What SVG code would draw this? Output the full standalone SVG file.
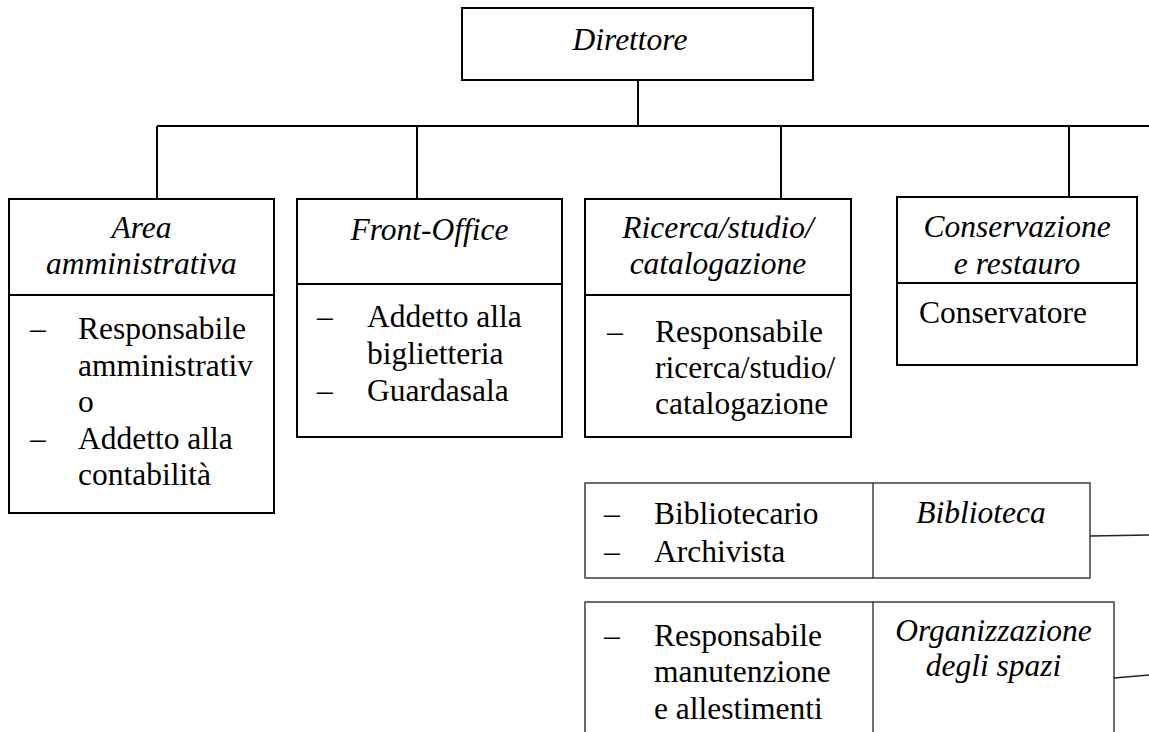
<svg xmlns="http://www.w3.org/2000/svg" width="1149" height="732" viewBox="0 0 1149 732">
<style>
.box{fill:#fff;stroke:#000;stroke-width:2}
.thin{fill:#fff;stroke:#222;stroke-width:1.3}
.ln{stroke:#000;stroke-width:2;fill:none}
.lt{stroke:#222;stroke-width:1.3;fill:none}
text{font-family:"Liberation Serif","Times New Roman",serif;font-size:31.5px;fill:#000}
.it{font-style:italic;text-anchor:middle}
</style>
<rect width="1149" height="732" fill="#fff"/>
<g id="connectors">
<line class="ln" x1="638" y1="80" x2="638" y2="126"/>
<line class="ln" x1="157" y1="126" x2="1149" y2="126"/>
<line class="ln" x1="157" y1="126" x2="157" y2="199"/>
<line class="ln" x1="417" y1="126" x2="417" y2="199"/>
<line class="ln" x1="781" y1="126" x2="781" y2="199"/>
<line class="ln" x1="1069" y1="126" x2="1069" y2="197"/>
<line class="lt" x1="1090" y1="536" x2="1149" y2="535"/>
<line class="lt" x1="1114" y1="678" x2="1149" y2="675"/>
</g>
<g id="direttore">
<rect class="box" x="462" y="8" width="351" height="72"/>
<text class="it" x="630" y="50">Direttore</text>
</g>
<g id="area-amministrativa">
<rect class="box" x="9" y="199" width="265" height="314"/>
<line class="ln" x1="9" y1="295" x2="274" y2="295"/>
<text class="it" x="141.5" y="238">Area</text>
<text class="it" x="141.5" y="274">amministrativa</text>
<text x="30" y="339">–</text><text x="78" y="339">Responsabile</text>
<text x="78" y="375.5">amministrativ</text>
<text x="78" y="412">o</text>
<text x="30" y="448.5">–</text><text x="78" y="448.5">Addetto alla</text>
<text x="78" y="485">contabilità</text>
</g>
<g id="front-office">
<rect class="box" x="297" y="199" width="265" height="238"/>
<line class="ln" x1="297" y1="284" x2="562" y2="284"/>
<text class="it" x="429.5" y="240">Front-Office</text>
<text x="317" y="327">–</text><text x="367" y="327">Addetto alla</text>
<text x="367" y="364">biglietteria</text>
<text x="317" y="401">–</text><text x="367" y="401">Guardasala</text>
</g>
<g id="ricerca">
<rect class="box" x="585" y="199" width="266" height="238"/>
<line class="ln" x1="585" y1="295" x2="851" y2="295"/>
<text class="it" x="718" y="238">Ricerca/studio/</text>
<text class="it" x="718" y="274">catalogazione</text>
<text x="607" y="342">–</text><text x="655" y="342">Responsabile</text>
<text x="655" y="378">ricerca/studio/</text>
<text x="655" y="414">catalogazione</text>
</g>
<g id="conservazione">
<rect class="box" x="897" y="197" width="240" height="168"/>
<line class="ln" x1="897" y1="283" x2="1137" y2="283"/>
<text class="it" x="1017" y="237">Conservazione</text>
<text class="it" x="1017" y="274">e restauro</text>
<text x="919" y="323">Conservatore</text>
</g>
<g id="biblioteca">
<rect class="thin" x="585" y="483" width="505" height="95"/>
<line class="lt" x1="873" y1="483" x2="873" y2="578"/>
<text x="604" y="524">–</text><text x="654" y="524">Bibliotecario</text>
<text x="604" y="562">–</text><text x="654" y="562">Archivista</text>
<text class="it" x="981" y="523">Biblioteca</text>
</g>
<g id="organizzazione">
<rect class="thin" x="585" y="602" width="529" height="140"/>
<line class="lt" x1="873" y1="602" x2="873" y2="742"/>
<text x="604" y="646">–</text><text x="654" y="646">Responsabile</text>
<text x="654" y="682">manutenzione</text>
<text x="654" y="719">e allestimenti</text>
<text class="it" x="993.5" y="641">Organizzazione</text>
<text class="it" x="993.5" y="676">degli spazi</text>
</g>
</svg>
